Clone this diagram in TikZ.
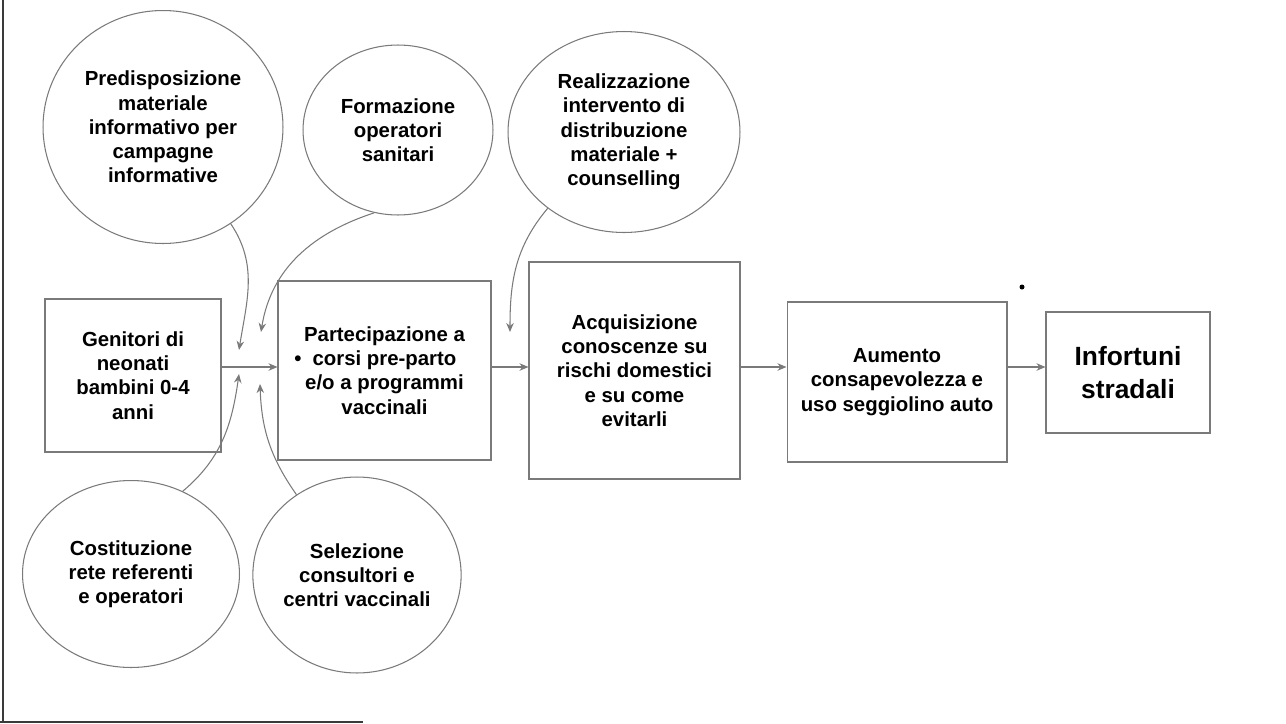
\documentclass[tikz,border=0pt]{standalone}
\usepackage{fontspec}
\setmainfont{Liberation Sans}
\usepackage{tikz}
\usetikzlibrary{shapes.geometric, arrows.meta}
\definecolor{linegray}{HTML}{7A7A7A}
\definecolor{framegray}{HTML}{3A3A3A}

\begin{document}
\begin{tikzpicture}[x=0.02cm, y=0.02cm]
    % Styles
    \tikzstyle{block} = [rectangle, draw=linegray, line width=0.6pt, align=center, font=\bfseries\fontsize{11.6}{13.8}\selectfont]
    \tikzstyle{bubble} = [ellipse, draw=linegray, line width=0.6pt, align=center, inner sep=0pt, font=\bfseries\fontsize{11.6}{13.8}\selectfont]
    \tikzstyle{line} = [draw, -{Stealth[length=1.8mm, width=1.5mm]}, linegray, line width=0.6pt]

    \useasboundingbox (0,0) rectangle (1286,-724);
    \draw [framegray, line width=1.2pt] (3,0) -- (3,-722);
    \draw [framegray, line width=0.8pt] (0,-722) -- (363,-722);

    % Activities
    \node [bubble, minimum width=4.8cm, minimum height=4.66cm] (pred) at (163,-127) {Predisposizione\\materiale\\informativo per\\campagne\\informative};
    \node [bubble, minimum width=3.8cm, minimum height=3.4cm] (form) at (398,-130) {Formazione\\operatori\\sanitari};
    \node [bubble, minimum width=4.64cm, minimum height=4.02cm] (real) at (624,-132) {Realizzazione\\intervento di\\distribuzione\\materiale +\\counselling};
    \node [bubble, minimum width=4.34cm, minimum height=3.74cm] (cost) at (131,-574) {Costituzione\\rete referenti\\e operatori};
    \node [bubble, minimum width=4.08cm, minimum height=3.92cm] (sel) at (357,-575) {Selezione\\consultori e\\centri vaccinali};

    % Chain
    \node [block, minimum width=3.52cm, minimum height=3.06cm] (gen) at (133,-375.5) {Genitori di\\neonati\\bambini 0-4\\anni};
    \node [block, minimum width=4.26cm, minimum height=3.58cm] (part) at (384.5,-370.5) {Partecipazione a\\\llap{\textbullet\hspace{0.22cm}}corsi pre-parto\\e/o a programmi\\vaccinali};
    \node [block, minimum width=4.22cm, minimum height=4.34cm] (acq) at (634.5,-370.5) {Acquisizione\\conoscenze su\\rischi domestici\\e su come\\evitarli};
    \node [block, minimum width=4.4cm, minimum height=3.2cm] (aum) at (897,-382) {Aumento\\consapevolezza e\\uso seggiolino auto};
    \node [block, minimum width=3.28cm, minimum height=2.42cm, font=\bfseries\fontsize{15}{19}\selectfont] (inf) at (1128,-372.5) {Infortuni\\stradali};
    \fill [black] (1022,-287) circle (2.5);

    % Ends of the side arrows
    \coordinate (flow) at (0,-367);
    \coordinate (tpred) at (239,-350);
    \coordinate (tform) at (261,-332);
    \coordinate (tcost) at (239,-374);
    \coordinate (tsel) at (260,-384);
    \coordinate (treal) at (510,-332);

    % Paths
    \path [line] (gen.east |- flow) -- (part.west |- flow);
    \path [line] (part.east |- flow) -- (acq.west |- flow);
    \path [line] (acq.east |- flow) -- (aum.west |- flow);
    \path [line] (aum.east |- flow) -- (inf.west |- flow);
    \path [line] (pred.-55) to[out=-56, in=81] (tpred);
    \path [line] (form.-106) to[out=-162, in=81] (tform);
    \path [line] (real.-135) to[out=-130, in=90] (treal);
    \path [line] (cost.58) to[out=40, in=-98] (tcost);
    \path [line] (sel.127) to[out=125, in=-88] (tsel);
\end{tikzpicture}
\end{document}
